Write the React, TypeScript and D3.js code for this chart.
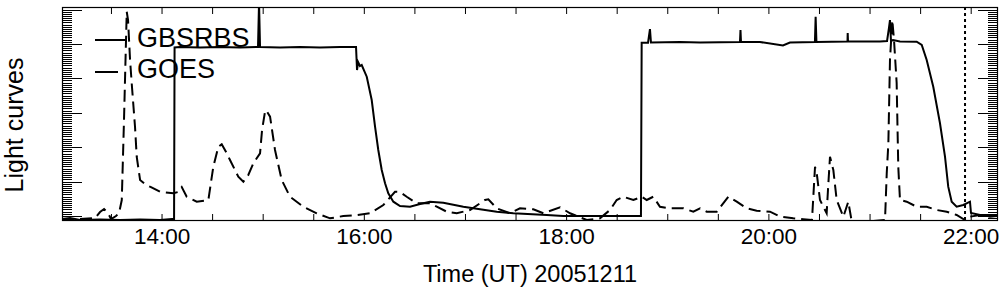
import React from "react";
import * as d3 from "d3";

// ---- data (UT decimal hours, normalized light-curve units) ----
const gbsTimes = [13.011, 13.09, 13.189, 13.387, 13.585, 13.783, 13.98, 14.099, 14.119, 14.124, 14.178, 14.376, 14.573, 14.771, 14.949, 14.959, 14.969, 15.167, 15.364, 15.562, 15.76, 15.918, 15.928, 15.938, 15.957, 15.974, 16.024, 16.073, 16.106, 16.138, 16.172, 16.205, 16.237, 16.287, 16.353, 16.452, 16.551, 16.649, 16.781, 16.979, 17.144, 17.309, 17.473, 17.803, 17.967, 18.33, 18.735, 18.742, 18.805, 18.824, 18.834, 19.121, 19.319, 19.714, 19.719, 19.724, 19.912, 20.139, 20.208, 20.455, 20.462, 20.47, 20.777, 20.779, 20.782, 21.098, 21.168, 21.187, 21.197, 21.207, 21.227, 21.296, 21.461, 21.511, 21.56, 21.625, 21.691, 21.741, 21.773, 21.807, 21.856, 21.922, 21.988, 21.998, 22.087, 22.186, 22.255];
const gbsValues = [-0.09, -0.061, -0.119, -0.105, -0.119, -0.105, -0.119, -0.09, -0.09, 4.895, 4.91, 4.895, 4.91, 4.895, 4.91, 6.2, 4.91, 4.895, 4.91, 4.895, 4.91, 4.91, 4.241, 4.474, 4.358, 4.387, 4.047, 3.369, 2.593, 1.916, 1.334, 0.948, 0.657, 0.413, 0.288, 0.267, 0.346, 0.413, 0.384, 0.267, 0.192, 0.122, 0.076, 0.026, -0.003, -0.003, -0.003, 5.035, 5.035, 5.433, 5.041, 5.055, 5.041, 5.055, 5.404, 5.055, 5.055, 4.953, 5.041, 5.055, 5.791, 5.055, 5.07, 5.317, 5.07, 5.07, 5.084, 5.462, 5.695, 5.084, 5.113, 5.07, 5.064, 4.968, 4.532, 3.756, 2.701, 1.721, 0.849, 0.413, 0.267, 0.317, 0.413, 0.084, 0.026, 0.026, -0.003];

const goesTimes = [13.011, 13.189, 13.338, 13.387, 13.427, 13.466, 13.496, 13.545, 13.575, 13.602, 13.624, 13.651, 13.664, 13.684, 13.7, 13.733, 13.75, 13.783, 13.832, 13.881, 13.98, 14.112, 14.158, 14.195, 14.244, 14.343, 14.458, 14.507, 14.557, 14.59, 14.633, 14.672, 14.754, 14.804, 14.853, 14.903, 14.969, 14.989, 15.018, 15.028, 15.068, 15.117, 15.183, 15.265, 15.397, 15.529, 15.661, 15.792, 15.925, 16.056, 16.188, 16.303, 16.353, 16.419, 16.518, 16.65, 16.716, 16.815, 16.914, 17.045, 17.144, 17.193, 17.226, 17.309, 17.44, 17.539, 17.671, 17.77, 17.935, 18.034, 18.199, 18.33, 18.429, 18.495, 18.561, 18.66, 18.742, 18.792, 18.857, 18.923, 19.022, 19.154, 19.253, 19.319, 19.385, 19.484, 19.599, 19.682, 19.78, 19.879, 20.011, 20.11, 20.241, 20.34, 20.426, 20.456, 20.475, 20.505, 20.571, 20.584, 20.604, 20.637, 20.67, 20.736, 20.785, 20.818, 20.901, 21.032, 21.148, 21.165, 21.181, 21.197, 21.22, 21.237, 21.263, 21.279, 21.296, 21.362, 21.461, 21.56, 21.659, 21.758, 21.856, 21.938, 21.988, 22.087, 22.186, 22.255];
const goesValues = [-0.09, -0.09, -0.061, 0.113, 0.201, 0.084, -0.09, -0.003, 0.084, 0.462, 2.788, 5.936, 5.695, 4.532, 3.863, 2.584, 1.712, 1.044, 0.927, 0.849, 0.703, 0.657, 0.695, 0.84, 0.558, 0.413, 0.462, 1.43, 2.012, 2.081, 1.858, 1.625, 1.14, 0.994, 1.189, 1.529, 1.82, 2.497, 3.029, 3.078, 2.884, 1.916, 1.044, 0.558, 0.267, 0.076, -0.07, -0.003, 0.026, 0.076, 0.317, 0.703, 0.695, 0.558, 0.366, 0.366, 0.267, 0.122, 0.076, 0.172, 0.366, 0.462, 0.483, 0.221, 0.076, 0.221, 0.192, 0.076, 0.25, 0.076, -0.119, -0.07, 0.172, 0.462, 0.558, 0.462, 0.558, 0.462, 0.558, 0.267, 0.221, 0.221, 0.122, 0.221, 0.122, 0.122, 0.558, 0.413, 0.221, 0.151, 0.122, -0.023, -0.07, -0.099, -0.119, 1.43, 1.189, 0.462, 0.076, 0.753, 1.721, 1.334, 0.462, -0.023, 0.413, -0.148, -0.177, -0.148, -0.119, 1.238, 2.11, 4.532, 5.695, 5.113, 3.863, 1.43, 0.462, 0.413, 0.267, 0.267, 0.172, 0.122, 0.026, -0.119, -0.023, 0.026, -0.023, -0.003];

const xMajorTicks = [14, 16, 18, 20, 22];
const xTickLabels = ["14:00", "16:00", "18:00", "20:00", "22:00"];
const xMinorTicks = [13.5, 14, 14.5, 15, 15.5, 16, 16.5, 17, 17.5, 18, 18.5, 19, 19.5, 20, 20.5, 21, 21.5, 22];
const yMajorTicks = [0, 1, 2, 3, 4, 5, 6];
const markerTime = [21.939];
const legendLabels = ["GBSRBS", "GOES"];
const xTitle = "Time (UT) 20051211";
const yTitle = "Light curves";

const W = 1004, H = 296;
const L = 62, R = 998, T = 7, B = 221;
const FONT = "'Liberation Sans', Arial, Helvetica, sans-serif";

export default function App() {
  const x = d3.scaleLinear().domain([13.011, 22.265]).range([L, R]);
  const y = d3.scaleLinear().domain([-0.148, 6.073]).range([B, T]);

  const gbsPts = gbsTimes.map((t, i) => [t, gbsValues[i]] as [number, number]);
  const goesPts = goesTimes.map((t, i) => [t, goesValues[i]] as [number, number]);
  const line = d3.line<[number, number]>().x((d) => x(d[0])).y((d) => y(d[1]));

  const yMinor: number[] = [];
  for (let v = -0.125; v <= 6.07; v += 1 / 16) yMinor.push(v);

  return (
    <svg width={W} height={H} style={{ position: "absolute", left: 0, top: 0, background: "#fff" }} fontFamily={FONT}>
      <defs>
        <clipPath id="plot">
          <rect x={L} y={T} width={R - L} height={B - T} />
        </clipPath>
      </defs>
      <rect x={0} y={0} width={W} height={H} fill="#fff" />

      {/* y minor ticks */}
      {yMinor.map((v, i) => (
        <g key={"ym" + i}>
          <line x1={L} x2={L + 10} y1={Math.round(y(v)) + 0.5} y2={Math.round(y(v)) + 0.5} stroke="#000" strokeWidth={1} />
          <line x1={R - 10} x2={R} y1={Math.round(y(v)) + 0.5} y2={Math.round(y(v)) + 0.5} stroke="#000" strokeWidth={1} />
        </g>
      ))}
      {yMajorTicks.map((v) => (
        <g key={"yM" + v}>
          <line x1={L} x2={L + 20} y1={Math.round(y(v)) + 0.5} y2={Math.round(y(v)) + 0.5} stroke="#000" strokeWidth={1} />
          <line x1={R - 20} x2={R} y1={Math.round(y(v)) + 0.5} y2={Math.round(y(v)) + 0.5} stroke="#000" strokeWidth={1} />
        </g>
      ))}

      {/* x ticks */}
      {xMinorTicks.map((t) => (
        <g key={"xm" + t}>
          <line x1={x(t)} x2={x(t)} y1={B} y2={B - 7} stroke="#000" strokeWidth={1} />
          <line x1={x(t)} x2={x(t)} y1={T} y2={T + 7} stroke="#000" strokeWidth={1} />
        </g>
      ))}
      {xMajorTicks.map((t, i) => (
        <text key={"xl" + t} x={x(t)} y={244} fontSize={22.5} textAnchor="middle" fill="#000">
          {xTickLabels[i]}
        </text>
      ))}

      {/* curves */}
      <g clipPath="url(#plot)">
        <path d={line(goesPts) || ""} fill="none" stroke="#000" strokeWidth={2} strokeDasharray="12,6" />
        <path d={line(gbsPts) || ""} fill="none" stroke="#000" strokeWidth={2} />
        {markerTime.map((t) => (
          <line key={"mk" + t} x1={x(t)} x2={x(t)} y1={T} y2={B} stroke="#000" strokeWidth={2} strokeDasharray="3,3" />
        ))}
      </g>

      {/* frame */}
      <rect x={L + 0.5} y={T + 0.5} width={R - L - 1} height={B - T - 1} fill="none" stroke="#000" strokeWidth={1.2} />

      {/* legend */}
      <line x1={95} x2={127} y1={40} y2={40} stroke="#000" strokeWidth={2} />
      <line x1={95} x2={127} y1={72} y2={72} stroke="#000" strokeWidth={2} strokeDasharray="23,9" />
      <text x={137} y={47} fontSize={27} fill="#000">{legendLabels[0]}</text>
      <text x={137} y={78} fontSize={27} fill="#000">{legendLabels[1]}</text>

      {/* titles */}
      <text x={530} y={282} fontSize={23.5} textAnchor="middle" fill="#000">{xTitle}</text>
      <text transform={`translate(23,125) rotate(-90)`} fontSize={25} textAnchor="middle" fill="#000">{yTitle}</text>
    </svg>
  );
}
